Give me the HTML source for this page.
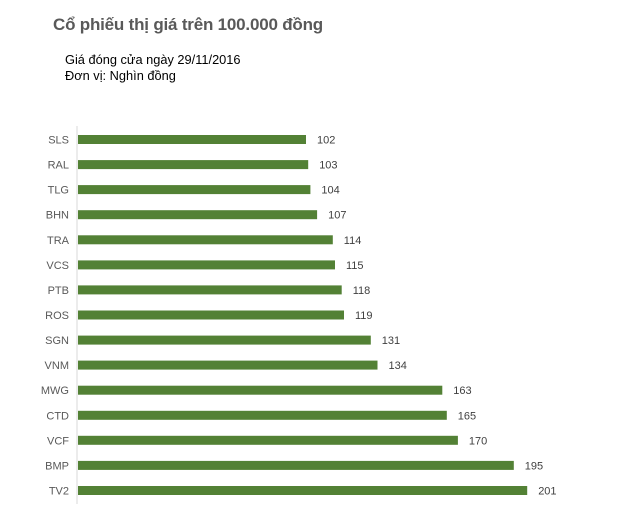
<!DOCTYPE html>
<html><head><meta charset="utf-8"><style>
body{margin:0;width:631px;height:521px;background:#fff;font-family:"Liberation Sans",sans-serif;position:relative;overflow:hidden}
.t{position:absolute;left:53px;top:15px;font-size:17px;font-weight:bold;color:#595959;white-space:nowrap;letter-spacing:-0.2px}
.s{position:absolute;left:65px;font-size:12.8px;color:#000;white-space:nowrap}
</style></head><body>
<div class="t">Cổ phiếu thị giá trên 100.000 đồng</div>
<div class="s" style="top:52px">Giá đóng cửa ngày 29/11/2016</div>
<div class="s" style="top:68px">Đơn vị: Nghìn đồng</div>
<svg width="631" height="521" style="position:absolute;left:0;top:0" font-family="Liberation Sans, sans-serif" font-size="11">
<line x1="77" y1="126" x2="77" y2="504" stroke="#d9d9d9" stroke-width="1"/>
<g id="b"></g>
</svg>
<script>
var d=[["SLS",102],["RAL",103],["TLG",104],["BHN",107],["TRA",114],["VCS",115],["PTB",118],["ROS",119],["SGN",131],["VNM",134],["MWG",163],["CTD",165],["VCF",170],["BMP",195],["TV2",201]];
var g=document.getElementById("b"),s="";
d.forEach(function(r,i){var y=135+i*25.07,w=r[1]*2.235;
s+='<rect x="78" y="'+y.toFixed(1)+'" width="'+w.toFixed(1)+'" height="9" fill="#538135"/>';
s+='<text x="69" y="'+(y+8.5).toFixed(1)+'" text-anchor="end" fill="#595959">'+r[0]+'</text>';
s+='<text x="'+(78+w+11).toFixed(1)+'" y="'+(y+8.5).toFixed(1)+'" fill="#404040">'+r[1]+'</text>';});
g.innerHTML=s;
</script>
</body></html>
